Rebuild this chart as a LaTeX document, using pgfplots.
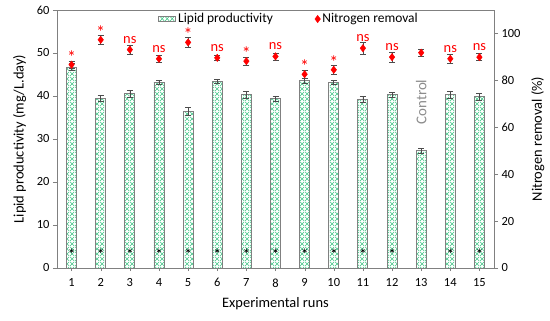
\documentclass[border=0pt]{standalone}
\usepackage{pgfplots}
\pgfplotsset{compat=1.18}
\usepackage{pgfplotstable}
\usetikzlibrary{patterns,patterns.meta}
\usepackage{fontspec}
\setmainfont{Carlito}
\definecolor{hatch}{RGB}{60,195,130}
\definecolor{edge}{RGB}{128,128,128}
\newcommand{\bigast}{\raisebox{-5bp}[0pt][0pt]{\fontsize{18}{18}\selectfont *}}
\tikzdeclarepattern{
  name=bigcross,
  type=uncolored,
  bounding box={(0,0) and (5bp,5bp)},
  tile size={(5bp,5bp)},
  code={
    \draw[line width=0.6pt] (0,0) -- (5bp,5bp) (0,5bp) -- (5bp,0);
  }
}
\pgfplotstableread{
x y e
1 46.7 0.8
2 39.5 0.7
3 40.5 0.9
4 43.2 0.4
5 36.4 0.9
6 43.4 0.4
7 40.3 0.8
8 39.4 0.6
9 43.6 0.6
10 43.2 0.5
11 39.2 0.7
12 40.3 0.6
13 27.3 0.6
14 40.3 0.9
15 39.9 0.8
}\lipid
\pgfplotstableread{
x y e lab
1 86.7 1.5 \bigast
2 97.3 2.0 \bigast
3 93.1 1.8 ns
4 89.2 1.5 ns
5 96.2 2.0 \bigast
6 89.6 1.0 ns
7 88.2 1.8 \bigast
8 90.2 1.5 ns
9 82.6 1.8 \bigast
10 84.5 2.0 \bigast
11 93.7 2.5 ns
12 89.9 2.2 ns
13 91.8 1.5 {}
14 89.2 1.8 ns
15 89.9 1.5 ns
}\nitro
\pgfplotstableread{
x y
1 4
2 4
3 4
4 4
5 4
6 4
7 4
8 4
9 4
10 4
11 4
12 4
14 4
15 4
}\stars
\begin{document}
\begin{tikzpicture}
\pgfplotsset{
  base/.style={
    scale only axis, width=437bp, height=258bp,
    xmin=0.5, xmax=15.5,
    axis line style={edge},
    tick style={edge},
    tick align=outside,
    major tick length=4bp,
    tick label style={font=\fontsize{12.5}{14}\selectfont, black},
    label style={font=\fontsize{14.5}{16}\selectfont},
    /pgf/number format/assume math mode=true,
  }
}
\begin{axis}[base,
  axis y line*=left, axis x line*=bottom,
  ymin=0, ymax=60, ytick={0,10,...,60},
  xtick={1,...,15}, major x tick style={edge, /pgfplots/major tick length=3bp},
  xticklabel style={yshift=-3bp},
  xlabel={Experimental runs},
  ylabel={Lipid productivity (mg/L.day)},
  xlabel style={yshift=-4bp},
  ylabel style={yshift=4bp},
]
\addplot[ybar, bar width=10bp, draw=edge, line width=0.9pt,
  pattern=bigcross, pattern color=hatch,
  error bars/.cd, y dir=both, y explicit,
  error bar style={black!70, line width=0.6pt},
  error mark options={rotate=90, mark size=3bp, black!70, line width=0.6pt}]
  table[x=x, y=y, y error=e]{\lipid};
\addplot[only marks, mark=asterisk, mark size=2.4bp, black, line width=0.5pt]
  table[x=x, y=y]{\stars};
\node[rotate=90, text=black!45, font=\fontsize{15}{17}\selectfont] at (axis cs:13,38.6) {Control};
\draw[edge] (rel axis cs:0,1) -- (rel axis cs:1,1);
\coordinate (bl) at (rel axis cs:0,0);
\coordinate (tr) at (rel axis cs:1,1);
\end{axis}
\begin{axis}[base,
  axis y line*=right, axis x line=none,
  ymin=0, ymax=110, ytick={0,20,...,100},
  ylabel={Nitrogen removal (\%)},
  ylabel style={yshift=-4bp},
  legend columns=2,
  legend style={at={(0.531,0.965)}, anchor=center, draw=none, fill=none,
    font=\fontsize{13.5}{15}\selectfont},
]
\addlegendimage{area legend, pattern=bigcross, pattern color=hatch, draw=edge, line width=0.8pt}
\addlegendentry{Lipid productivity\rule{40bp}{0pt}}
\addplot[only marks, mark=diamond*, mark size=3.7bp, color=red,
  point meta=explicit symbolic,
  nodes near coords, nodes near coords align={above},
  every node near coord/.append style={text=red, font=\fontsize{14.5}{16}\selectfont, yshift=3bp},
  error bars/.cd, y dir=both, y explicit,
  error bar style={black!70, line width=0.6pt},
  error mark options={rotate=90, mark size=3bp, black!70, line width=0.6pt}]
  table[x=x, y=y, y error=e, meta=lab]{\nitro};
\addlegendentry{Nitrogen removal}
\end{axis}
\pgfresetboundingbox
\path[use as bounding box] ([shift={(-57bp,-53bp)}]bl) rectangle ([shift={(56bp,10bp)}]tr);
\end{tikzpicture}
\end{document}
